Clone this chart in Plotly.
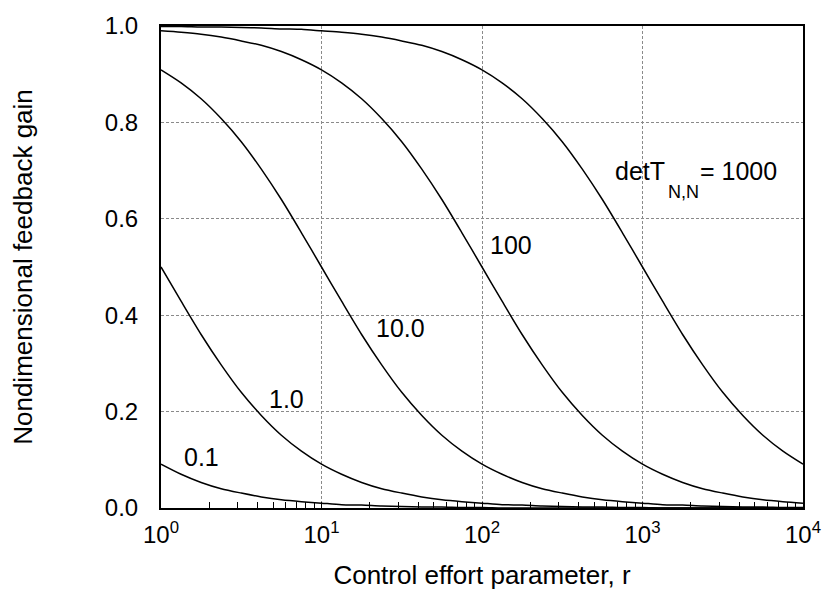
import math
import plotly.graph_objects as go

# r sample points (eighth-decade)
r_values = [1, 1.334, 1.778, 2.371, 3.162, 4.217, 5.623, 7.499,
            10, 13.34, 17.78, 23.71, 31.62, 42.17, 56.23, 74.99,
            100, 133.4, 177.8, 237.1, 316.2, 421.7, 562.3, 749.9,
            1000, 1334, 1778, 2371, 3162, 4217, 5623, 7499, 10000]

gain_0_1 = [0.091, 0.070, 0.053, 0.040, 0.031, 0.023, 0.017, 0.013,
            0.010, 0.007, 0.006, 0.004, 0.003, 0.002, 0.002, 0.001,
            0.001, 0, 0, 0, 0, 0, 0, 0,
            0, 0, 0, 0, 0, 0, 0, 0, 0]
gain_1 = [0.500, 0.429, 0.360, 0.297, 0.240, 0.192, 0.151, 0.118,
          0.091, 0.070, 0.053, 0.040, 0.031, 0.023, 0.017, 0.013,
          0.010, 0.007, 0.006, 0.004, 0.003, 0.002, 0.002, 0.001,
          0.001, 0, 0, 0, 0, 0, 0, 0, 0]
gain_10 = [0.909, 0.882, 0.849, 0.808, 0.760, 0.703, 0.640, 0.571,
           0.500, 0.429, 0.360, 0.297, 0.240, 0.192, 0.151, 0.118,
           0.091, 0.070, 0.053, 0.040, 0.031, 0.023, 0.017, 0.013,
           0.010, 0.007, 0.006, 0.004, 0.003, 0.002, 0.002, 0.001, 0.001]
gain_100 = [0.990, 0.987, 0.983, 0.977, 0.969, 0.960, 0.947, 0.930,
            0.909, 0.882, 0.849, 0.808, 0.760, 0.703, 0.640, 0.571,
            0.500, 0.429, 0.360, 0.297, 0.240, 0.192, 0.151, 0.118,
            0.091, 0.070, 0.053, 0.040, 0.031, 0.023, 0.017, 0.013, 0.010]
gain_1000 = [0.999, 0.999, 0.998, 0.998, 0.997, 0.996, 0.994, 0.993,
             0.990, 0.987, 0.983, 0.977, 0.969, 0.960, 0.947, 0.930,
             0.909, 0.882, 0.849, 0.808, 0.760, 0.703, 0.640, 0.571,
             0.500, 0.429, 0.360, 0.297, 0.240, 0.192, 0.151, 0.118, 0.091]

series = [gain_0_1, gain_1, gain_10, gain_100, gain_1000]

# curve labels
curve_labels = ["0.1", "1.0", "10.0", "100", "detT", "N,N", "= 1000"]
label_r = [1.79, 6.05, 30.9, 152, 659, 1403, 2213]
label_y = [0.105, 0.227, 0.373, 0.546, 0.699, 0.656, 0.699]
label_anchor = ["center", "center", "center", "center", "left", "left", "left"]
label_size = [25, 25, 25, 25, 25, 18, 25]

x_tickvals = [1, 10, 100, 1000, 10000]
x_ticktext = ["10<sup>0</sup>", "10<sup>1</sup>", "10<sup>2</sup>",
              "10<sup>3</sup>", "10<sup>4</sup>"]
y_tickvals = [0.0, 0.2, 0.4, 0.6, 0.8, 1.0]
y_ticktext = ["0.0", "0.2", "0.4", "0.6", "0.8", "1.0"]

FONT = "Liberation Sans, Arial, Helvetica, sans-serif"

fig = go.Figure()
for ys in series:
    fig.add_trace(go.Scatter(x=r_values, y=ys, mode="lines",
                             line=dict(color="black", width=1.5, shape="spline",
                                       smoothing=0.8),
                             showlegend=False, hoverinfo="skip"))

for txt, lr, ly, anc, fs in zip(curve_labels, label_r, label_y, label_anchor, label_size):
    fig.add_annotation(x=math.log10(lr), y=ly, xref="x", yref="y", text=txt,
                       showarrow=False, xanchor=anc, yanchor="middle",
                       font=dict(family=FONT, size=fs, color="black"))

fig.update_xaxes(type="log", range=[0, 4],
                 tickvals=x_tickvals, ticktext=x_ticktext,
                 ticks="inside", ticklen=0, ticklabelstandoff=4,
                 showgrid=True, gridcolor="#8a8a8a", gridwidth=1, griddash="3px,2px",
                 showline=True, linecolor="black", linewidth=2, mirror=True,
                 minor=dict(ticks="inside", ticklen=6, tickcolor="black",
                            tickwidth=1, dtick="D1", showgrid=False),
                 tickfont=dict(family=FONT, size=24, color="black"),
                 title=dict(text="Control effort parameter, r", standoff=19,
                            font=dict(family=FONT, size=26, color="black")),
                 zeroline=False)
fig.update_yaxes(range=[0, 1.0],
                 tickvals=y_tickvals, ticktext=y_ticktext,
                 ticks="", ticklabelstandoff=16,
                 showgrid=True, gridcolor="#8a8a8a", gridwidth=1, griddash="3px,2px",
                 showline=True, linecolor="black", linewidth=2, mirror=True,
                 tickfont=dict(family=FONT, size=24, color="black"),
                 title=dict(text="Nondimensional feedback gain", standoff=65,
                            font=dict(family=FONT, size=26, color="black")),
                 zeroline=False)

fig.update_layout(width=833, height=598,
                  margin=dict(l=161, r=25, t=23, b=90),
                  paper_bgcolor="white", plot_bgcolor="white")

fig.write_html("out.html")
